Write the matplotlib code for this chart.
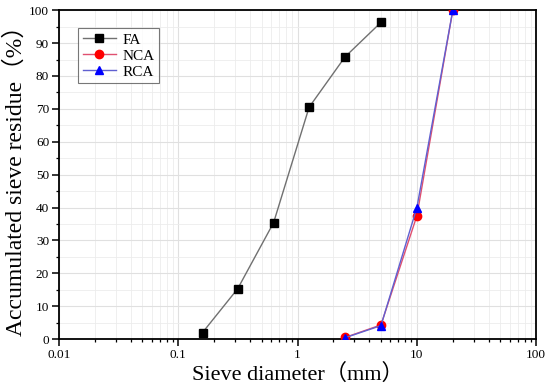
import matplotlib
matplotlib.use("Agg")
import matplotlib.pyplot as plt
from matplotlib.ticker import LogLocator, NullFormatter, MultipleLocator, FixedLocator, FixedFormatter

plt.rcParams['font.family'] = ['Liberation Serif', 'Noto Sans CJK SC', 'DejaVu Serif']

fa_x = [0.16, 0.315, 0.63, 1.25, 2.5, 5]
fa_y = [2.0, 15.3, 35.4, 70.5, 85.8, 96.3]
nca_x = [2.5, 5, 10, 20]
nca_y = [0.5, 4.3, 37.5, 100]
rca_x = [2.5, 5, 10, 20]
rca_y = [0.4, 4.1, 40.0, 100]
xticks = [0.01, 0.1, 1, 10, 100]
xticklabels = ['0.01', '0.1', '1', '10', '100']

fig = plt.figure(figsize=(5.5, 3.92), dpi=100)
ax = fig.add_axes([0.107, 0.135, 0.868, 0.839])

ax.plot(fa_x, fa_y, color='#707070', lw=1.0, marker='s', ms=5.5, mfc='black', mec='black', label='FA', zorder=3)
ax.plot(nca_x, nca_y, color='#e05070', lw=1.0, marker='o', ms=6, mfc='red', mec='red', label='NCA', zorder=3)
ax.plot(rca_x, rca_y, color='#6060d0', lw=1.0, marker='^', ms=6, mfc='blue', mec='blue', label='RCA', zorder=4)

ax.set_xscale('log')
ax.set_xlim(0.01, 100)
ax.set_ylim(0, 100)
ax.xaxis.set_major_locator(FixedLocator(xticks))
ax.xaxis.set_major_formatter(FixedFormatter(xticklabels))
ax.xaxis.set_minor_locator(LogLocator(base=10, subs=range(2, 10), numticks=20))
ax.xaxis.set_minor_formatter(NullFormatter())
ax.yaxis.set_major_locator(MultipleLocator(10))
ax.yaxis.set_minor_locator(MultipleLocator(5))

ax.grid(True, which='major', color='#e0e0e0', lw=0.8)
ax.grid(True, which='minor', color='#ececec', lw=0.6)
ax.set_axisbelow(True)

ax.tick_params(which='major', direction='out', length=5, width=1.1, labelsize=9.5, pad=2, top=False, right=False)
ax.tick_params(which='minor', direction='out', length=2.5, width=0.9, top=False, right=False)
for s in ax.spines.values():
    s.set_linewidth(1.3)

ax.set_xlabel('Sieve diameter（mm）', fontsize=16, labelpad=2)
ax.set_ylabel('Accumulated sieve residue（%）', fontsize=17, labelpad=2)

leg = ax.legend(loc='upper left', bbox_to_anchor=(0.04, 0.945), borderaxespad=0, fontsize=11, frameon=True,
                fancybox=False, edgecolor='#555555', handlelength=2.2, borderpad=0.3,
                labelspacing=0.15, handletextpad=0.4)
leg.get_frame().set_linewidth(0.8)

fig.savefig('out.png', dpi=100)
